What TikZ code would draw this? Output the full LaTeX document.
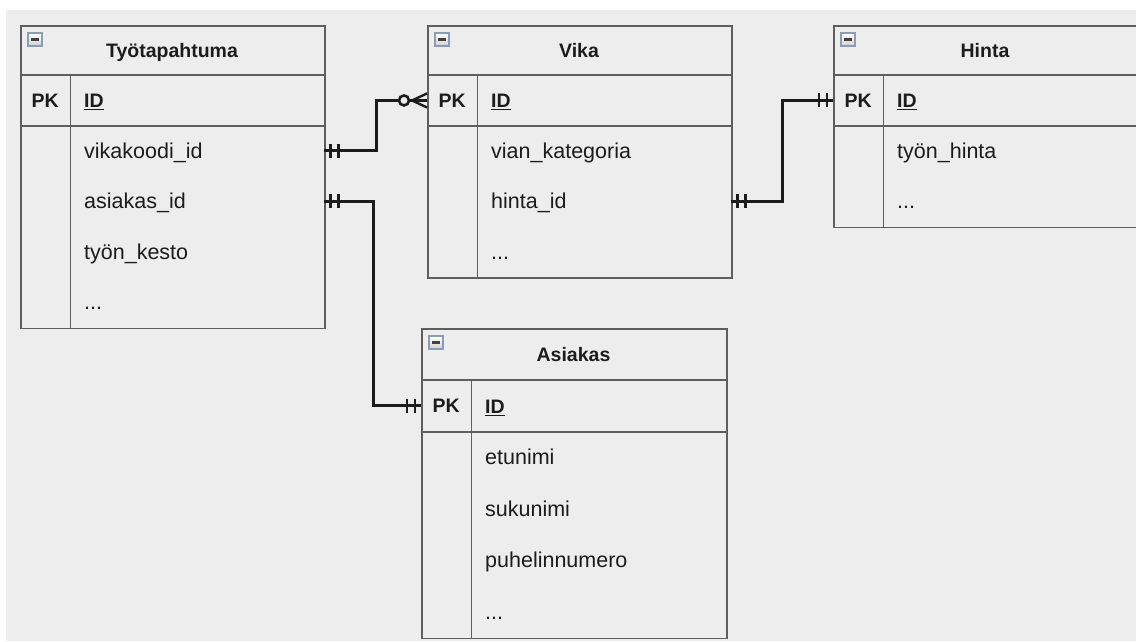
\documentclass[tikz,border=0pt]{standalone}
\usepackage{fontspec}
\setmainfont{Liberation Sans}
\definecolor{bgc}{HTML}{EDEDED}
\definecolor{gridc}{HTML}{5E5E5E}
\definecolor{inkc}{HTML}{1C1C1C}
\definecolor{iconc}{HTML}{8E9CB3}

% the "more attributes" row text
\newcommand\moreattrs{...}

\tikzset{
  frame/.style={draw=gridc, line width=1.6pt, fill=bgc, rectangle, inner sep=0pt},
  grid/.style={draw=gridc, line width=1.6pt},
  titlecell/.style={inner sep=0pt, text height=14pt, text depth=0pt,
    font=\fontsize{19.5}{23}\selectfont\bfseries, text=inkc},
  keycell/.style={inner sep=0pt, minimum width=50pt, text height=14pt, text depth=0pt,
    font=\fontsize{19.5}{23}\selectfont\bfseries, text=inkc, anchor=north west},
  fieldrow/.style={inner xsep=14pt, inner ysep=0pt, align=left, text height=15pt,
    text depth=0pt, font=\fontsize{21.5}{25}\selectfont, text=inkc, anchor=north west},
  iconbox/.style={draw=iconc, line width=1.2pt, top color=white, bottom color=black!18,
    minimum width=14pt, minimum height=13pt, inner sep=0pt},
  rel/.style={draw=inkc, line width=3pt},
  tick/.style={draw=inkc, line width=2.8pt},
}

% An entity table: #1 name, #2 left, #3 top, #4 width, #5 header height,
% #6 row height, #7 title, #8 attribute list, #9 number of attributes
\newcommand\ertable[9]{%
  \node[frame, minimum width=#4*1pt, minimum height={(#5+#6*(#9+1))*1pt},
        anchor=north west] (#1) at (#2,#3) {};
  \node[iconbox] (#1-icon) at (#2+15,#3+14.5) {};
  \draw[line width=2.4pt, draw=black!75] ([xshift=-4pt]#1-icon.center) -- ([xshift=4pt]#1-icon.center);
  \node[titlecell] (#1-title) at (#2+#4/2,#3+#5/2) {#7};
  \node[keycell, minimum height=#6*1pt] (#1-pk) at (#2,#3+#5) {PK};
  \node[fieldrow, minimum width={(#4-50)*1pt}, text width={(#4-78)*1pt},
        minimum height=#6*1pt, font=\fontsize{19.5}{23}\selectfont\bfseries]
        (#1-id) at (#2+50,#3+#5) {\underline{ID}};
  \foreach \f [count=\i] in {#8} {
    \node[fieldrow, minimum width={(#4-50)*1pt}, text width={(#4-78)*1pt},
          minimum height=#6*1pt] (#1-\i) at (#2+50,#3+#5+#6*\i) {\f};
  }
  \draw[grid] (#1-pk.north west) -- (#1-pk.north west -| #1.east);
  \draw[grid] (#1-pk.south west) -- (#1-pk.south west -| #1.east);
  \draw[grid] (#1-pk.north east) -- (#1-pk.north east |- #1.south);
}

% Mandatory-one mark: two bars near an end point, #2 = +1 (to the right) or -1 (to the left)
\newcommand\mandone[2]{%
  \foreach \d in {6,14} {
    \draw[tick] ([xshift=#2*\d*1pt, yshift=7pt]#1) -- ([xshift=#2*\d*1pt, yshift=-7pt]#1);
  }
}

\begin{document}
\begin{tikzpicture}[x=1pt,y=-1pt]
  \fill[white] (0,0) rectangle (1136,641);
  \fill[bgc] (6,10) rectangle (1136,641);
  \useasboundingbox (0,0) rectangle (1136,641);

  \ertable{tyo}{20}{25}{304}{50}{50.5}{Työtapahtuma}
    {vikakoodi\_id, asiakas\_id, työn\_kesto, \moreattrs}{4}
  \ertable{vika}{427}{25}{304}{50}{50.5}{Vika}
    {vian\_kategoria, hinta\_id, \moreattrs}{3}
  \ertable{hinta}{833}{25}{304}{50}{50.5}{Hinta}
    {työn\_hinta, \moreattrs}{2}
  \ertable{asi}{421}{328}{305}{52}{51.5}{Asiakas}
    {etunimi, sukunimi, puhelinnumero, \moreattrs}{4}

  % relationships
  \draw[rel] (tyo-1.east) -- ++(52,0) |- (vika-pk.west);
  \draw[rel] (tyo-2.east) -- ++(49,0) |- (asi-pk.west);
  \draw[rel] (vika-2.east) -- ++(51,0) |- (hinta-pk.west);

  % zero-or-many end at Vika
  \foreach \s in {-7,0,7}
    \draw[tick, line width=2.4pt] ([xshift=-15pt]vika-pk.west) -- ([yshift=\s*1pt]vika-pk.west);
  \draw[draw=inkc, line width=2.6pt, fill=bgc] ([xshift=-23pt]vika-pk.west) circle[radius=5pt];

  % mandatory-one ends
  \mandone{tyo-1.east}{1}
  \mandone{tyo-2.east}{1}
  \mandone{vika-2.east}{1}
  \mandone{asi-pk.west}{-1}
  \mandone{hinta-pk.west}{-1}
\end{tikzpicture}
\end{document}
